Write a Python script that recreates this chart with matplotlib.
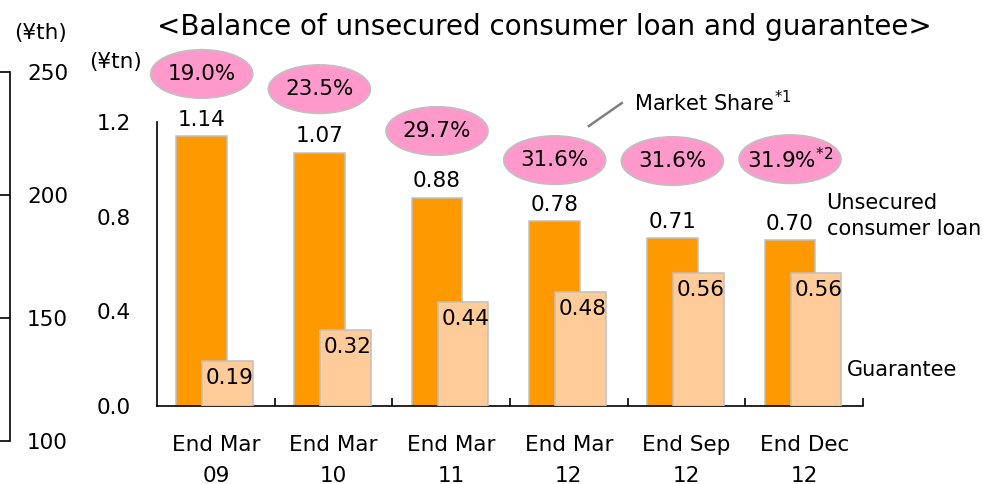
import matplotlib
matplotlib.use("Agg")
import matplotlib.pyplot as plt
from matplotlib.patches import Ellipse

# ---- data ----
periods = ["End Mar\n09", "End Mar\n10", "End Mar\n11", "End Mar\n12", "End Sep\n12", "End Dec\n12"]
loan_balance = [1.14, 1.07, 0.88, 0.78, 0.71, 0.70]
guarantee_balance = [0.19, 0.32, 0.44, 0.48, 0.56, 0.56]
market_share = ["19.0%", "23.5%", "29.7%", "31.6%", "31.6%", r"31.9%$^{*2}$"]
left_scale_ticks = [100, 150, 200, 250]

# ---- styling / layout ----
ORANGE = "#FF9900"
LIGHT = "#FFCC99"
PINK = "#FF99CC"
EDGE = "#C0C0C0"
FS = 15.5
W, H = 983, 484
share_y = [1.403, 1.339, 1.162, 1.039, 1.035, 1.043]  # bubble heights (axis units)

fig = plt.figure(figsize=(W / 100, H / 100), dpi=100)
plt.rcParams["font.family"] = ["DejaVu Sans"]

def fx(px):
    return px / W

def fy(py):
    return 1 - py / H

# main axes
ax = fig.add_axes([fx(157), fy(406), fx(706), 284 / H])
ax.set_xlim(0, 6)
ax.set_ylim(0, 1.2)

centers = [i + 0.5 for i in range(len(periods))]
bw = 0.43
x_loan = [c - 0.12 for c in centers]
x_guar = [c + 0.10 for c in centers]

ax.bar(x_loan, loan_balance, width=bw, color=ORANGE, edgecolor=EDGE, linewidth=1.1, zorder=2)
ax.bar(x_guar, guarantee_balance, width=bw, color=LIGHT, edgecolor=EDGE, linewidth=1.1, zorder=3)

for x, v in zip(x_loan, loan_balance):
    ax.annotate(f"{v:.2f}", (x, v), xytext=(0, 7.5), textcoords="offset points",
                ha="center", va="baseline", fontsize=FS, annotation_clip=False)
for x, v in zip(x_guar, guarantee_balance):
    ax.annotate(f"{v:.2f}", (x + 0.02, v), xytext=(0, -16.5), textcoords="offset points",
                ha="center", va="baseline", fontsize=FS, zorder=4)

# market share bubbles
for x, y, s in zip(x_loan, share_y, market_share):
    e = Ellipse((x, y), width=0.867, height=0.205, facecolor=PINK, edgecolor=EDGE,
                linewidth=1.2, clip_on=False, zorder=5)
    ax.add_patch(e)
    ax.text(x, y, s, ha="center", va="center", fontsize=FS, zorder=6, clip_on=False)

# callout for market share
ax.plot([3.67, 3.95], [1.183, 1.28], color="#808080", linewidth=1.8, clip_on=False, zorder=5)
ax.text(4.05, 1.28, r"Market Share$^{*1}$", ha="left", va="center", fontsize=15, clip_on=False)

# series labels
ax.text(5.69, 0.803, "Unsecured\nconsumer loan", ha="left", va="center", fontsize=15,
        linespacing=1.4, clip_on=False)
ax.text(5.862, 0.152, "Guarantee", ha="left", va="center", fontsize=15, clip_on=False)

# axes styling
for side in ("top", "right"):
    ax.spines[side].set_visible(False)
for side in ("left", "bottom"):
    ax.spines[side].set_linewidth(1.2)
ax.set_yticks([0.0, 0.4, 0.8, 1.2])
ax.set_yticklabels(["0.0", "0.4", "0.8", "1.2"], fontsize=FS)
ax.tick_params(axis="y", length=0, pad=19)
ax.set_xticks(range(1, 7))
ax.set_xticklabels([])
ax.tick_params(axis="x", which="major", direction="in", length=5.8, width=1.2)
ax.set_xticks(centers, minor=True)
ax.set_xticklabels(periods, minor=True, fontsize=FS, linespacing=1.68)
ax.tick_params(axis="x", which="minor", length=0, pad=21)

ax.text(-0.35, 1.455, "(¥tn)", ha="center", va="center", fontsize=FS)

# secondary left scale
ax2 = fig.add_axes([fx(10), fy(441), fx(1), (441 - 72) / H])
ax2.set_ylim(100, 250)
ax2.set_xticks([])
ax2.patch.set_visible(False)
for side in ("top", "right", "bottom"):
    ax2.spines[side].set_visible(False)
ax2.spines["left"].set_linewidth(1.2)
ax2.set_yticks(left_scale_ticks)
ax2.set_yticklabels([str(t) for t in left_scale_ticks], fontsize=FS)
ax2.tick_params(axis="y", left=True, right=False, labelleft=False, labelright=True,
                direction="out", length=7.2, width=1.2, pad=4.3)
fig.text(fx(40), fy(33), "(¥th)", ha="center", va="center", fontsize=FS)

# title
fig.text(fx(544), fy(27), "<Balance of unsecured consumer loan and guarantee>",
         ha="center", va="center", fontsize=20)

fig.savefig("out.png", dpi=100)
